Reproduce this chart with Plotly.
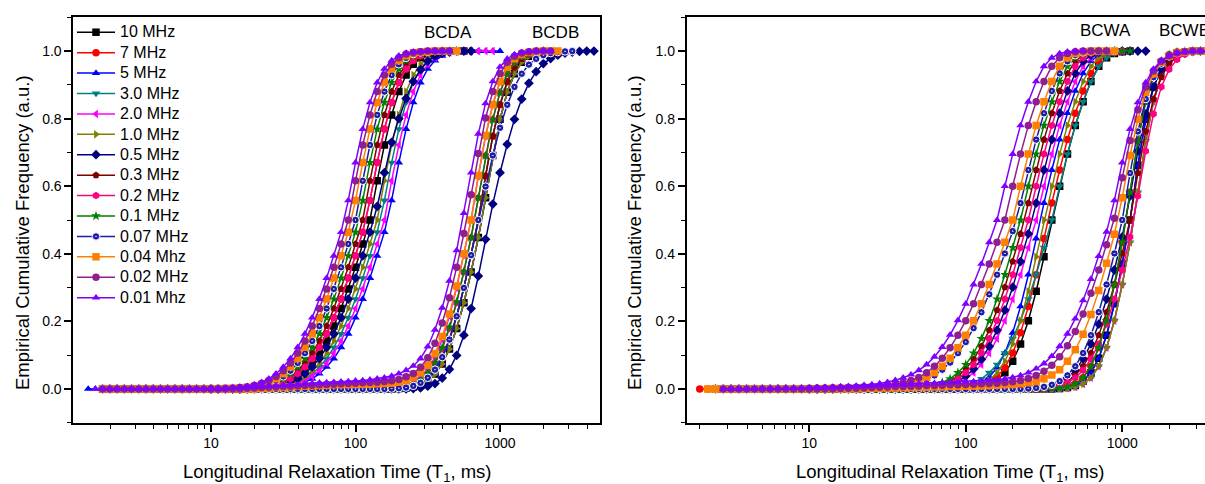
import plotly.graph_objects as go

# ---------------- data ----------------
# T1 bins (ms) shared by all curves
T1 = [1.413, 1.585, 1.778, 1.995, 2.239, 2.512, 2.818, 3.162, 3.548, 3.981,
      4.467, 5.012, 5.623, 6.310, 7.079, 7.943, 8.913, 10.0, 11.22, 12.59,
      14.13, 15.85, 17.78, 19.95, 22.39, 25.12, 28.18, 31.62, 35.48, 39.81,
      44.67, 50.12, 56.23, 63.10, 70.79, 79.43, 89.13, 100.0, 112.2, 125.9,
      141.3, 158.5, 177.8, 199.5, 223.9, 251.2, 281.8, 316.2, 354.8, 398.1,
      446.7, 501.2, 562.3, 631.0, 707.9, 794.3, 891.3, 1000.0, 1122, 1259,
      1413, 1585, 1778, 1995, 2239, 2512, 2818, 3162, 3548, 3981, 4467]

FREQ = ["10 MHz", "7 MHz", "5 MHz", "3.0 MHz", "2.0 MHz", "1.0 MHz", "0.5 MHz",
        "0.3 MHz", "0.2 MHz", "0.1 MHz", "0.07 MHz", "0.04 Mhz", "0.02 MHz", "0.01 Mhz"]

A_FIRST_T1 = 1.413   # first bin of the "A" curves
B_FIRST_T1 = 10.0    # first bin of the "B" curves

# ---- BCDA (left panel, faster group) ----
BCDA_10MHz = [None, None, 0,0,0,0,0,0,0,0,0,0, 0,0,0,0,0,0,0,0,0,0,
    .001,.002,.004,.006,.01,.016,.025,.037,.054,.077,.106,.142,.186,.238,.296,.36,.429,.5,
    .616,.722,.811,.88,.929,.961,.98,.991,.996,.998, 1,1,1]
BCDA_7MHz = [None, None, 0,0,0,0,0,0,0,0,0,0, 0,0,0,0,0,0,0,0,0,
    .001,.002,.003,.005,.008,.013,.02,.03,.045,.065,.09,.123,.163,.211,.266,.328,.394,.464,
    .558,.67,.769,.848,.907,.947,.972,.986,.994,.997,.999, 1,1,1]
BCDA_5MHz = [0,0,0,0,0,0,0,0,0,0, 0,0,0,0,0,0,0,0,0,0, 0,0,0,0,
    .001,.002,.003,.005,.008,.013,.02,.03,.045,.065,.09,.123,.163,.211,.266,.328,.394,.464,
    .558,.67,.769,.848,.907,.947,.972,.986,.994,.997,.999, 1,1,1,1,1]
BCDA_3MHz = [None, None, 0,0,0,0,0,0,0,0,0,0, 0,0,0,0,0,0,0,0,0,0, 0,
    .001,.002,.003,.005,.008,.013,.02,.03,.045,.065,.09,.123,.163,.211,.266,.328,.394,.464,
    .558,.67,.769,.848,.907,.947,.972,.986,.994,.997,.999, 1,1,1]
BCDA_2MHz = [None, None, 0,0,0,0,0,0,0,0,0,0, 0,0,0,0,0,0,0,0,0,0, 0,0,
    .001,.002,.004,.006,.01,.016,.025,.037,.054,.077,.106,.142,.186,.238,.296,.36,.429,.5,
    .616,.722,.811,.88,.929,.961,.98,.991,.996,.998, 1,1,1,1,1]
BCDA_1MHz = [None, None, 0,0,0,0,0,0,0,0,0,0, 0,0,0,0,0,0,0,0,0,0, 0,
    .001,.002,.004,.006,.01,.016,.025,.037,.054,.077,.106,.142,.186,.238,.296,.36,.429,.5,
    .616,.722,.811,.88,.929,.961,.98,.991,.996,.998, 1,1,1]
BCDA_500kHz = [None, None, 0,0,0,0,0,0,0,0,0,0, 0,0,0,0,0,0,0,0,0,0,
    .001,.002,.003,.005,.008,.013,.02,.03,.045,.065,.09,.123,.163,.211,.266,.328,.394,.464,
    .54,.64,.73,.8,.86,.91,.945,.97,.985,.993,.997, 1,1,1]
BCDA_300kHz = [None, None, 0,0,0,0,0,0,0,0,0,0, 0,0,0,0,0,0,0,0,0,
    .001,.002,.004,.006,.01,.016,.025,.037,.054,.077,.106,.142,.186,.238,.296,.36,.429,.5,
    .616,.722,.811,.88,.929,.961,.98,.991,.996,.998, 1,1,1]
BCDA_200kHz = [None, None, 0,0,0,0,0,0,0,0,0,0, 0,0,0,0,0,0,0,0,0,
    .001,.002,.003,.005,.008,.013,.02,.03,.045,.065,.09,.123,.163,.211,.266,.328,.394,.464,
    .558,.67,.769,.848,.907,.947,.972,.986,.994,.997,.999, 1,1]
BCDA_100kHz = [None, None, 0,0,0,0,0,0,0,0,0,0, 0,0,0,0,0,0,0,0,
    .001,.002,.003,.005,.008,.013,.02,.03,.045,.065,.09,.123,.163,.211,.266,.328,.394,.464,
    .558,.67,.769,.848,.907,.947,.972,.986,.994,.997,.999, 1,1,1]
BCDA_70kHz = [None, None, 0,0,0,0,0,0,0,0,0,0, 0,0,0,0,0,0,0,0,
    .001,.002,.004,.006,.01,.016,.025,.037,.054,.077,.106,.142,.186,.238,.296,.36,.429,.5,
    .616,.722,.811,.88,.929,.961,.98,.991,.996,.998, 1,1,1,1]
BCDA_40kHz = [None, None, 0,0,0,0,0,0,0,0,0,0, 0,0,0,0,0,0,0,
    .001,.002,.003,.005,.008,.013,.02,.03,.045,.065,.09,.123,.163,.211,.266,.328,.394,.464,
    .558,.67,.769,.848,.907,.947,.972,.986,.994,.997,.999, 1,1,1,1]
BCDA_20kHz = [None, None, 0,0,0,0,0,0,0,0,0,0, 0,0,0,0,0,0,0,
    .001,.002,.004,.006,.01,.016,.025,.037,.054,.077,.106,.142,.186,.238,.296,.36,.429,.5,
    .616,.722,.811,.88,.929,.961,.98,.991,.996,.998, 1,1,1,1]
BCDA_10kHz = [None, 0,0,0,0,0,0,0,0,0,0, 0,0,0,0,0,0,0,
    .001,.002,.003,.005,.008,.013,.02,.03,.045,.065,.09,.123,.163,.211,.266,.328,.394,.464,
    .558,.67,.769,.848,.907,.947,.972,.986,.994,.997,.999, 1,1,1,1]

# ---- BCDB (left panel, slower group), starting at 10 ms ----
BCDB_10MHz = [0,0,0,0,0,0,0,0,0,0, 0,0,0,0,0,0,0,0,0,0, 0,0,0,0,0,0,
    .001,.003,.006,.013,.024,.044,.074,.118,.179,.255,.346,.448,
    .566,.691,.798,.878,.933,.967,.985,.994,.998]
BCDB_7MHz = [0,0,0,0,0,0,0,0,0,0, 0,0,0,0,0,0,0,0,0,0, 0,0,0,0,0,
    .001,.002,.004,.009,.018,.033,.057,.094,.146,.215,.299,.396,.5,
    .63,.748,.841,.909,.952,.977,.99,.996,.999]
BCDB_5MHz = [0,0,0,0,0,0,0,0,0,0, 0,0,0,0,0,0,0,0,0,0, 0,0,0,0,0,0,
    .001,.003,.006,.013,.024,.044,.074,.118,.179,.255,.346,.448,
    .566,.691,.798,.878,.933,.967,.985,.994,.998]
BCDB_3MHz = [0,0,0,0,0,0,0,0,0,0, 0,0,0,0,0,0,0,0,0,0, 0,0,0,0,0,
    .001,.002,.004,.009,.018,.033,.057,.094,.146,.215,.299,.396,.5,
    .63,.748,.841,.909,.952,.977,.99,.996,.999]
BCDB_2MHz = [0,0,0,0,0,0,0,0,0,0, 0,0,0,0,0,0,0,0,0,0, 0,0,0,0,
    .001,.002,.004,.009,.018,.033,.057,.094,.146,.215,.299,.396,.5,
    .63,.748,.841,.909,.952,.977,.99,.996,.999, 1]
BCDB_1MHz = [0,0,0,0,0,0,0,0,0,0, 0,0,0,0,0,0,0,0,0,0, 0,0,0,0,0,0,
    .001,.003,.006,.013,.024,.044,.074,.118,.179,.255,.346,.448,
    .566,.691,.798,.878,.933,.967,.985,.994,.998]
BCDB_500kHz = [0,0,0,0,0,0,0,0,0,0, 0,0,0,0,0,0,0,0,0,0, 0,0,0,0,0,0,0,0,
    .001,.003,.008,.016,.032,.058,.099,.159,.238,.334,.443,
    .547,.64,.724,.798,.858,.905,.939,.963,.978,.988,.994,.997,.999, 1,1]
BCDB_300kHz = [0,0,0,0,0,0,0,0,0,0, 0,0,0,0,0,0,0,0,0,0, 0,0,0,0,0,
    .001,.002,.004,.009,.018,.033,.057,.094,.146,.215,.299,.396,.5,
    .63,.748,.841,.909,.952,.977,.99,.996,.999]
BCDB_200kHz = [0,0,0,0,0,0,0,0,0,0, 0,0,0,0,0,0,0,0,0,0, 0,0,0,0,0,
    .001,.003,.006,.013,.024,.044,.074,.118,.179,.255,.346,.448,
    .566,.691,.798,.878,.933,.967,.985,.994,.998, 1]
BCDB_100kHz = [0,0,0,0,0,0,0,0,0,0, 0,0,0,0,0,0,0,0,0,0, 0,0,0,0,0,
    .001,.003,.007,.014,.026,.047,.078,.122,.183,.258,.348,.449,
    .566,.69,.797,.877,.932,.966,.984,.993,.998, 1]
BCDB_70kHz = [0,0,0,0,0,0,0,0,0,0, 0,0,0,0,0,0,0,0,0,0, 0,0,0,0,0,
    .001,.002,.004,.009,.018,.033,.057,.094,.146,.215,.299,.396,.5,
    .599,.691,.773,.841,.894,.933,.96,.977,.988,.994,.997,.999, 1]
BCDB_40kHz = [0,0,0,0,0,0,0, .002,.003,.004,.005,.006,.007,.008,.009,.01,.011,.012,.012,
    .013,.013,.014,.014,.015,.016,.017,.02,.025,.034,.048,.07,.105,.155,.222,.305,.4,.5,
    .632,.75,.842,.91,.952,.977,.99,.996,.999, 1,1,1]
BCDB_20kHz = [0,0,0,0,0, .002,.003,.004,.005,.006,.007,.008,.009,.01,.011,.012,.013,.014,
    .015,.016,.017,.018,.019,.02,.022,.024,.028,.036,.046,.064,.092,.135,.195,.27,.36,.46,
    .575,.697,.802,.88,.934,.967,.985,.994,.998, 1,1,1]
BCDB_10kHz = [0,0,0, .002,.003,.004,.005,.006,.008,.009,.01,.012,.013,.015,.016,.018,.019,
    .02,.021,.022,.024,.025,.027,.03,.033,.038,.045,.055,.068,.09,.125,.175,.24,.32,.41,
    .52,.64,.755,.845,.91,.953,.977,.99,.996,.999, 1,1,1]

# ---- BCWA (right panel, faster group) ----
BCWA_10MHz = [None, None, None, None, None,
    0,0,0,0,0,0,0,0,0,0, 0,0,0,0,0,0,0,0,0,0, 0,0,0,0,0,0,0,0,0,0, 0,0,
    .001,.003,.006,.013,.026,.048,.082,.133,.202,.289,.391,.5,
    .6,.695,.78,.85,.91,.955,.98,.993,.998, 1]
BCWA_7MHz = [None, None, None,
    0,0,0,0,0,0,0,0,0,0, 0,0,0,0,0,0,0,0,0,0, 0,0,0,0,0,0,0,0,0,0, 0,0,0,
    .001,.002,.004,.009,.019,.035,.063,.106,.166,.244,.338,.445,
    .55,.648,.738,.816,.882,.934,.97,.988,.996,.999, 1]
BCWA_5MHz = [None, None, None, None, None,
    0,0,0,0,0,0,0,0,0,0, 0,0,0,0,0,0,0,0,0,0, 0,0,0,0,0,0,0,0,0,0,
    .001,.002,.004,.009,.019,.035,.063,.106,.166,.244,.338,.445,
    .55,.648,.738,.816,.882,.934,.97,.988,.996,.999, 1,1]
BCWA_3MHz = [None, None, None, None, None,
    0,0,0,0,0,0,0,0,0,0, 0,0,0,0,0,0,0,0,0,0, 0,0,0,0,0,0,0,0,
    .001,.002,.003,.006,.011,.019,.03,.048,.072,.106,.149,.202,.266,.338,.418,.5,
    .6,.695,.78,.85,.91,.955,.98,.993,.998, 1]
BCWA_2MHz = [None, None, None, None, None,
    0,0,0,0,0,0,0,0,0,0, 0,0,0,0,0,0,0,0,0,0, 0,0,0,0,0,0,
    .001,.002,.003,.006,.011,.019,.03,.048,.072,.106,.149,.202,.266,.338,.418,.5,
    .6,.695,.78,.85,.91,.955,.98,.993,.998, 1,1]
BCWA_1MHz = [None, None, None, None, None,
    0,0,0,0,0,0,0,0,0,0, 0,0,0,0,0,0,0,0,0,0, 0,0,0,0,0,0,0,0,0,0, 0,
    .001,.003,.006,.013,.026,.048,.082,.133,.202,.289,.391,.5,
    .6,.695,.78,.85,.91,.955,.98,.993,.998, 1,1]
BCWA_500kHz = [None, None, None, None, None,
    0,0,0,0,0,0,0,0,0,0, 0,0,0,0,0,0,0,0,0,0, 0,0,0,0,0,0,
    .001,.002,.005,.008,.014,.024,.038,.059,.088,.126,.174,.233,.301,.377,.459,
    .55,.648,.738,.816,.882,.934,.97,.988,.996,.999, 1,1,1,1,1]
BCWA_300kHz = [None, None, None, None, None,
    0,0,0,0,0,0,0,0,0,0, 0,0,0,0,0,0,0,0,0,0, 0,0,0,0,0,
    .001,.002,.005,.008,.014,.024,.038,.059,.088,.126,.174,.233,.301,.377,.459,
    .55,.648,.738,.816,.882,.934,.97,.988,.996,.999, 1,1,1]
BCWA_200kHz = [None, None, None, None, None,
    0,0,0,0,0,0,0,0,0,0, 0,0,0,0,0,0,0,0,0,0, 0,0,0,0,0,
    .001,.002,.003,.006,.011,.019,.03,.048,.072,.106,.149,.202,.266,.338,.418,.5,
    .6,.695,.78,.85,.91,.955,.98,.993,.998, 1,1,1]
BCWA_100kHz = [None, None, None, None, None,
    0,0,0,0,0,0,0,0,0,0, 0,0,0,0,0,0,0,0,0,0, 0,0,0,0,
    .001,.002,.003,.006,.011,.019,.03,.048,.072,.106,.149,.202,.266,.338,.418,.5,
    .6,.695,.78,.85,.91,.955,.98,.993,.998, 1,1,1,1,1]
BCWA_70kHz = [None, None, None, None, None,
    0,0,0,0,0,0,0,0,0,0, 0,0,0,0,0,0,0,0,0,0,
    .001,.002,.003,.005,.008,.012,.019,.028,.04,.057,.078,.106,.139,.18,.227,.28,.338,.401,.467,
    .55,.648,.738,.816,.882,.934,.97,.988,.996,.999, 1,1,1]
BCWA_40kHz = [None, None, None, None,
    0,0,0,0,0,0,0,0,0,0, 0,0,0,0,0,
    .001,.002,.002,.003,.003,.004,.005,.006,.008,.01,.013,.018,.025,.034,
    .048,.067,.091,.122,.159,.202,.252,.309,.37,.434,.5,
    .6,.695,.78,.85,.91,.955,.98,.993,.998, 1,1,1,1]
BCWA_20kHz = [None, None, None, None, None, None,
    0,0,0,0,0,0,0,0,0,0, 0,
    .001,.002,.002,.003,.003,.004,.005,.006,.007,.009,.011,.014,.018,.025,
    .034,.048,.067,.091,.122,.159,.202,.252,.309,.37,.434,.5,
    .6,.695,.78,.85,.91,.955,.98,.993,.998, 1,1,1,1]
BCWA_10kHz = [None, None, None, None, None, None,
    0,0,0,0,0, .001,.001,.002,.002,.002,.003,
    .003,.004,.005,.006,.007,.008,.009,.011,.013,.016,.02,.026,.033,.042,.055,.072,.095,.124,.16,.203,
    .252,.309,.37,.434,.5,
    .6,.695,.78,.85,.91,.955,.98,.993,.998, 1,1]

# ---- BCWB (right panel, slower group), starting at 10 ms ----
BCWB_10MHz = [0,0,0,0,0,0,0,0,0,0, 0,0,0,0,0,0,0,0,0,0, 0,0,0,0,0,0,0,0,0,0, 0,0,
    .001,.004,.01,.023,.048,.091,.159,.252,.37,.5,
    .662,.798,.894,.952,.981,.994,.998, 1,1,1,1,1]
BCWB_7MHz = [0,0,0,0,0,0,0,0,0,0, 0,0,0,0,0,0,0,0,0,0, 0,0,0,0,0,0,0,0,0,0, 0,
    .001,.002,.006,.015,.033,.067,.122,.202,.309,.434,
    .582,.734,.851,.928,.97,.989,.997,.999, 1,1,1,1,1]
BCWB_5MHz = [0,0,0,0,0,0,0,0,0,0, 0,0,0,0,0,0,0,0,0,0, 0,0,0,0,0,0,0,0,0,0, 0,0,
    .001,.004,.01,.023,.048,.091,.159,.252,.37,.5,
    .662,.798,.894,.952,.981,.994,.998, 1,1,1,1,1]
BCWB_3MHz = [0,0,0,0,0,0,0,0,0,0, 0,0,0,0,0,0,0,0,0,0, 0,0,0,0,0,0,0,0,0,0, 0,0,
    .001,.002,.006,.015,.033,.067,.122,.202,.309,.434,
    .582,.734,.851,.928,.97,.989,.997,.999, 1,1,1,1]
BCWB_2MHz = [0,0,0,0,0,0,0,0,0,0, 0,0,0,0,0,0,0,0,0,0, 0,0,0,0,0,0,0,0,0,0, 0,0,
    .001,.002,.006,.015,.033,.067,.122,.202,.309,.434,
    .582,.734,.851,.928,.97,.989,.997,.999, 1,1,1,1]
BCWB_1MHz = [0,0,0,0,0,0,0,0,0,0, 0,0,0,0,0,0,0,0,0,0, 0,0,0,0,0,0,0,0,0,0, 0,0,
    .001,.002,.006,.015,.033,.067,.122,.202,.309,.434,
    .582,.734,.851,.928,.97,.989,.997,.999, 1,1,1,1]
BCWB_500kHz = [0,0,0,0,0,0,0,0,0,0, 0,0,0,0,0,0,0,0,0,0, 0,0,0,0,0,0,0,0,
    .001,.002,.005,.01,.019,.033,.055,.089,.133,.192,.266,.352,.45,
    .571,.704,.814,.894,.946,.975,.99,.996,.999, 1,1,1,1]
BCWB_300kHz = [0,0,0,0,0,0,0,0,0,0, 0,0,0,0,0,0,0,0,0,0, 0,0,0,0,0,0,0,0,0,
    .001,.003,.006,.012,.023,.04,.067,.106,.159,.227,.309,.401,.5,
    .639,.762,.858,.923,.963,.984,.994,.998, 1,1,1,1]
BCWB_200kHz = [0,0,0,0,0,0,0,0,0,0, 0,0,0,0,0,0,0,0,0,0, 0,0,0,0,0,0,0,0,0,
    .001,.002,.005,.01,.019,.033,.055,.089,.133,.192,.266,.352,.45,
    .571,.704,.814,.894,.946,.975,.99,.996,.999, 1,1,1]
BCWB_100kHz = [0,0,0,0,0,0,0,0,0,0, 0,0,0,0,0,0,0,0,0,0, 0,0,0,0,0,0,0,0,0,0, 0,
    .001,.002,.006,.015,.033,.067,.122,.202,.309,.434,
    .582,.734,.851,.928,.97,.989,.997,.999, 1,1,1,1,1]
BCWB_70kHz = [0,0,0,0,0,0,0,0,0,0, 0,0,0,0,0,0,0,0,0,0, 0,0,0,0,0,0,0,0,
    .001,.003,.006,.012,.023,.04,.067,.106,.159,.227,.309,.401,.5,
    .639,.762,.858,.923,.963,.984,.994,.998, 1,1,1,1,1]
BCWB_40kHz = [0,0,0,0,0,0,0,
    .001,.002,.002,.003,.003,.004,.004,.005,.005,.006,.006,.007,.007,.008,.008,.009,.01,
    .011,.012,.013,.015,.018,.022,.03,.041,.057,.082,.116,.162,.22,.291,.372,.458,
    .566,.691,.798,.878,.933,.967,.985,.994,.998, 1,1,1,1,1]
BCWB_20kHz = [0,0,0,0,
    .001,.002,.002,.003,.004,.005,.006,.007,.007,.008,.009,.01,.01,.011,.012,.012,
    .013,.014,.015,.016,.017,.019,.021,.025,.031,.04,.052,.07,.095,.128,.17,.222,.283,.352,.427,.505,
    .625,.735,.826,.894,.941,.97,.986,.994,.998, 1,1,1,1,1]
BCWB_10kHz = [.002,.003,.003,.004,.005,.006,.007,.008,.009,.01,
    .011,.012,.013,.014,.015,.016,.017,.018,.019,.02,
    .021,.022,.023,.025,.027,.03,.034,.04,.048,.06,
    .075,.097,.126,.163,.208,.262,.325,.393,.465,
    .558,.67,.769,.848,.907,.947,.972,.986,.994,.997,.999, 1,1,1,1]

# tick labels
X_TICKS = [10, 100, 1000]
X_TICK_TEXT = ["10", "100", "1000"]
X_MINOR = [2, 3, 4, 5, 6, 7, 8, 9, 20, 30, 40, 50, 60, 70, 80, 90,
           200, 300, 400, 500, 600, 700, 800, 900, 2000, 3000, 4000, 5000]
Y_TICKS = [0.0, 0.2, 0.4, 0.6, 0.8, 1.0]
Y_TICK_TEXT = ["0.0", "0.2", "0.4", "0.6", "0.8", "1.0"]

# ---------------- styles ----------------
COLORS = ["#000000", "#FF0000", "#0000FF", "#008080", "#FF00FF", "#808000", "#000080",
          "#800000", "#FF0080", "#008000", "#1C1CA8", "#FF8000", "#8F1F8F", "#8000FF"]
SYMBOLS = ["square", "circle", "triangle-up", "triangle-down", "triangle-left",
           "triangle-right", "diamond", "pentagon", "hexagon", "star", "circle-dot",
           "square", "circle", "triangle-up"]

BCDA = [BCDA_10MHz, BCDA_7MHz, BCDA_5MHz, BCDA_3MHz, BCDA_2MHz, BCDA_1MHz, BCDA_500kHz,
        BCDA_300kHz, BCDA_200kHz, BCDA_100kHz, BCDA_70kHz, BCDA_40kHz, BCDA_20kHz, BCDA_10kHz]
BCDB = [BCDB_10MHz, BCDB_7MHz, BCDB_5MHz, BCDB_3MHz, BCDB_2MHz, BCDB_1MHz, BCDB_500kHz,
        BCDB_300kHz, BCDB_200kHz, BCDB_100kHz, BCDB_70kHz, BCDB_40kHz, BCDB_20kHz, BCDB_10kHz]
BCWA = [BCWA_10MHz, BCWA_7MHz, BCWA_5MHz, BCWA_3MHz, BCWA_2MHz, BCWA_1MHz, BCWA_500kHz,
        BCWA_300kHz, BCWA_200kHz, BCWA_100kHz, BCWA_70kHz, BCWA_40kHz, BCWA_20kHz, BCWA_10kHz]
BCWB = [BCWB_10MHz, BCWB_7MHz, BCWB_5MHz, BCWB_3MHz, BCWB_2MHz, BCWB_1MHz, BCWB_500kHz,
        BCWB_300kHz, BCWB_200kHz, BCWB_100kHz, BCWB_70kHz, BCWB_40kHz, BCWB_20kHz, BCWB_10kHz]

iA = T1.index(A_FIRST_T1)
iB = T1.index(B_FIRST_T1)

W, H = 1205, 484
FONT = "Liberation Sans, Arial, sans-serif"

fig = go.Figure()


def add(y, first, s, xa, ya, show):
    x = T1[first:first + len(y)]
    mline = dict(width=1, color="white") if SYMBOLS[s] == "circle-dot" else dict(width=0)
    fig.add_trace(go.Scatter(
        x=x, y=y, mode="lines+markers",
        name="<span style='font-size:16px'>" + FREQ[s] + "</span>", showlegend=show,
        line=dict(color=COLORS[s], width=1.5),
        marker=dict(symbol=SYMBOLS[s], size=7.5, color=COLORS[s], line=mline),
        xaxis=xa, yaxis=ya))


for s in range(14):
    add(BCDA[s], iA, s, "x", "y", True)
    add(BCDB[s], iB, s, "x", "y", False)
for s in range(14):
    add(BCWA[s], iA, s, "x2", "y2", False)
    add(BCWB[s], iB, s, "x2", "y2", False)

ydom = [61.3 / H, 466.7 / H]
axis_common = dict(showgrid=False, zeroline=False, ticks="outside", ticklen=7, tickwidth=1.5,
                   tickcolor="black", linecolor="black", linewidth=1.8, showline=True,
                   tickfont=dict(family=FONT, size=14, color="black"), automargin=False)

xcommon = dict(axis_common, type="log", tickmode="array", tickvals=X_TICKS, ticktext=X_TICK_TEXT,
               minor=dict(tickmode="array", tickvals=X_MINOR, ticks="outside", ticklen=4,
                          tickwidth=1.2, tickcolor="black"))
ycommon = dict(axis_common, range=[-0.1, 1.1], tickmode="array", tickvals=Y_TICKS,
               ticktext=Y_TICK_TEXT,
               minor=dict(dtick=0.1, tick0=0, ticks="outside", ticklen=4, tickwidth=1.2,
                          tickcolor="black"))

fig.update_layout(
    width=W, height=H, autosize=False,
    margin=dict(l=0, r=0, t=0, b=0),
    paper_bgcolor="white", plot_bgcolor="white",
    font=dict(family=FONT, color="black"),
    xaxis=dict(xcommon, domain=[73.3 / W, 600 / W], range=[0.047, 3.692], mirror=True, anchor="y"),
    yaxis=dict(ycommon, domain=ydom, mirror=True, anchor="x"),
    xaxis2=dict(xcommon, domain=[686.7 / W, 1.0], range=[0.2166, 3.529], mirror=True, anchor="y2"),
    yaxis2=dict(ycommon, domain=ydom, mirror=False, anchor="x2"),
    showlegend=True,
    legend=dict(x=72 / W, xanchor="left", y=1 - 17 / H, yanchor="top",
                bgcolor="rgba(0,0,0,0)", font=dict(family=FONT, size=13.4, color="black"),
                itemwidth=38, tracegroupgap=0),
)

ann = [
    dict(text="BCDA", x=448 / W, y=1 - 32 / H, size=17, xanchor="center"),
    dict(text="BCDB", x=555 / W, y=1 - 32 / H, size=17, xanchor="center"),
    dict(text="BCWA", x=1105 / W, y=1 - 31 / H, size=17, xanchor="center"),
    dict(text="BCWB", x=1157 / W, y=1 - 31 / H, size=17, xanchor="left"),
]
for a in ann:
    fig.add_annotation(text=a["text"], x=a["x"], y=a["y"], xref="paper", yref="paper",
                       xanchor=a["xanchor"], yanchor="middle", showarrow=False,
                       font=dict(family=FONT, size=a["size"], color="black"))

XT = "Longitudinal Relaxation Time (T<sub>1</sub>, ms)"
YT = "Empirical Cumulative Frequency (a.u.)"
for xc in (336.5, 950):
    fig.add_annotation(text=XT, x=xc / W, y=1 - 473 / H, xref="paper", yref="paper",
                       xanchor="center", yanchor="middle", showarrow=False,
                       font=dict(family=FONT, size=18.5, color="black"))
for xc in (22, 634):
    fig.add_annotation(text=YT, x=xc / W, y=1 - 233 / H, xref="paper", yref="paper",
                       xanchor="center", yanchor="middle", showarrow=False, textangle=-90,
                       font=dict(family=FONT, size=18.5, color="black"))

fig.write_html("out.html")
